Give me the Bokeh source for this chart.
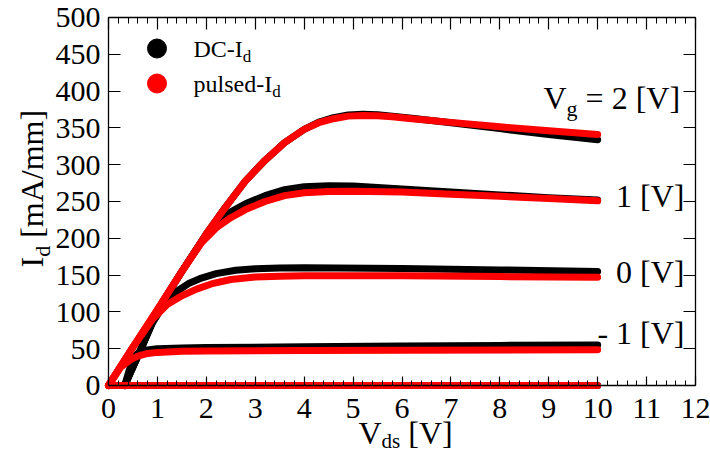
import math
from bokeh.plotting import figure
from bokeh.models import Label, LinearAxis, Range1d, FixedTicker
from bokeh.embed import file_html
from bokeh.resources import INLINE

# ---------------- data ----------------
x_ticks = list(range(0, 13))
y_ticks = list(range(0, 501, 50))
x_tick_labels = [str(t) for t in x_ticks]
y_tick_labels = [str(t) for t in y_ticks]

# DC drain current (black) for each gate voltage
dc_vds_p2 = [0.33, 0.6, 1.0, 1.5, 2.0, 2.4, 2.8, 3.2, 3.6, 4.0, 4.3, 4.6, 4.9, 5.2, 5.5, 5.8, 6.2, 6.6, 7.0, 8.0, 9.0, 10.0]
dc_id_p2 = [0, 40, 102, 155, 206, 243, 278, 306, 330, 348, 358, 364, 367.5, 368.5, 368, 366, 363, 360, 357, 349, 341, 334]
dc_vds_p1 = [0.33, 0.6, 1.0, 1.5, 1.95, 2.25, 2.5, 2.8, 3.2, 3.6, 4.0, 4.5, 5.0, 6.0, 7.0, 8.0, 9.0, 10.0]
dc_id_p1 = [0, 40, 102, 155, 200, 222, 236, 247, 258, 266, 270, 271.5, 271, 267, 263, 259, 255, 252]
dc_vds_0 = [0.33, 0.6, 0.9, 1.15, 1.4, 1.65, 1.9, 2.2, 2.6, 3.0, 3.5, 4.0, 6.0, 8.0, 10.0]
dc_id_0 = [0, 40, 85, 112, 128, 139, 146, 152, 156.5, 158.5, 159.5, 160, 159, 157, 155]
dc_vds_m1 = [0.33, 0.42, 0.5, 0.6, 0.75, 1.0, 1.5, 2.0, 4.0, 6.0, 8.0, 10.0]
dc_id_m1 = [0, 20, 36, 44, 48, 50, 51, 51.5, 52.5, 53.5, 54.5, 55]
dc_vds_m2 = [0.0, 10.0]
dc_id_m2 = [0, 0]

# pulsed drain current (red)
pl_vds_p2 = [0, 0.5, 1.0, 1.5, 2.0, 2.4, 2.8, 3.2, 3.6, 4.0, 4.3, 4.6, 4.9, 5.2, 5.5, 5.8, 6.2, 6.6, 7.0, 8.0, 9.0, 10.0]
pl_id_p2 = [0, 52, 103, 155, 206, 243, 278, 306, 330, 348, 357, 362.5, 366, 367, 366.5, 365, 362.5, 360, 357.5, 351.5, 346, 341]
pl_vds_p1 = [0, 0.5, 1.0, 1.5, 1.9, 2.2, 2.5, 2.8, 3.2, 3.6, 4.0, 4.5, 5.0, 6.0, 7.0, 8.0, 9.0, 10.0]
pl_id_p1 = [0, 52, 103, 155, 194, 214, 228, 239, 250, 258, 262, 263.5, 264, 263, 260, 257, 254, 251]
pl_vds_0 = [0, 0.5, 0.9, 1.2, 1.5, 1.8, 2.1, 2.5, 3.0, 3.5, 4.0, 6.0, 8.0, 10.0]
pl_id_0 = [0, 52, 90, 110, 122, 131, 138, 144, 147.5, 148.5, 149, 149, 148, 147]
pl_vds_m1 = [0, 0.25, 0.45, 0.6, 0.8, 1.0, 1.5, 2.0, 4.0, 10.0]
pl_id_m1 = [0, 25, 35, 40, 43.5, 45, 46.5, 47, 47.5, 48.5]
pl_vds_m2 = [0.0, 10.0]
pl_id_m2 = [0, 0]

dc_series = [(dc_vds_p2, dc_id_p2), (dc_vds_p1, dc_id_p1), (dc_vds_0, dc_id_0),
             (dc_vds_m1, dc_id_m1), (dc_vds_m2, dc_id_m2)]
pl_series = [(pl_vds_p2, pl_id_p2), (pl_vds_p1, pl_id_p1), (pl_vds_0, pl_id_0),
             (pl_vds_m1, pl_id_m1), (pl_vds_m2, pl_id_m2)]

legend_labels = [("DC-I", "d"), ("pulsed-I", "d")]
series_colors = ["#000000", "#ff0000"]

# ---------------- layout ----------------
W, H = 710, 453
# pixel box of the data area inside the canvas
PL, PR, PT, PB = 108, 695, 17, 385
X0, X1, Y0, Y1 = 0, 12, 0, 500
FONT = "Liberation Serif"
CORR = 0.34  # baseline correction (em) of bokeh's alphabetic anchor

sx = (X1 - X0) / (PR - PL)
sy = (Y1 - Y0) / (PB - PT)


def xd(px):
    return X0 + (px - PL) * sx


def yd(py):
    return Y0 + (PB - py) * sy


# Times metrics (1/1000 em)
TW = {"V": 722, "D": 722, "C": 667, "-": 333, "I": 333, "p": 500, "u": 500, "l": 278,
      "s": 389, "e": 444, "d": 500, " ": 250, "=": 564, "[": 333, "]": 333, "m": 778,
      "A": 722, "/": 278, "g": 500}


def tw(s, size):
    return sum(TW.get(c, 500) for c in s) / 1000.0 * size


# the frame spans the whole canvas; axes are pinned to the data box
p = figure(width=W, height=H, x_range=Range1d(xd(0), xd(W)), y_range=Range1d(yd(H), yd(0)),
           output_backend="svg", toolbar_location=None,
           min_border=0, min_border_left=0, min_border_right=0, min_border_top=0, min_border_bottom=0,
           x_axis_type=None, y_axis_type=None)
p.xgrid.visible = False
p.ygrid.visible = False
p.outline_line_color = None
p.background_fill_color = "white"
p.border_fill_color = "white"

x_minor = [i / 5 for i in range(0, 61)]


def make_axis(kind, loc, ticks, minor, tick_in, minor_in):
    ax = LinearAxis(ticker=FixedTicker(ticks=ticks, minor_ticks=minor), fixed_location=loc,
                    bounds=(X0, X1) if kind == "x" else (Y0, Y1))
    ax.axis_line_color = "black"
    ax.axis_line_width = 1.3
    ax.major_tick_line_color = "black"
    ax.minor_tick_line_color = "black"
    ax.major_tick_line_width = 1.2
    ax.minor_tick_line_width = 1.0
    ax.major_tick_in = tick_in
    ax.major_tick_out = 0
    ax.minor_tick_in = minor_in
    ax.minor_tick_out = 0
    ax.major_label_text_color = None   # tick labels are drawn as serif labels below
    ax.major_label_text_font_size = "0px"
    return ax


p.add_layout(make_axis("x", Y0, x_ticks, x_minor, 9, 5), "below")
p.add_layout(make_axis("y", X0, y_ticks, [], 12, 0), "left")
p.add_layout(make_axis("x", Y1, x_ticks, x_minor, 12, 6), "above")
p.add_layout(make_axis("y", X1, y_ticks, [], 12, 0), "right")

# ---------------- curves ----------------
for xs, ys in dc_series:
    p.line(xs, ys, line_color=series_colors[0], line_width=7, line_cap="round", line_join="round")
for xs, ys in pl_series:
    p.line(xs, ys, line_color=series_colors[1], line_width=7, line_cap="round", line_join="round")


# ---------------- texts ----------------
def lab(x, y, text, size, xo=0.0, yo=0.0, align="left", angle=0.0):
    # xo, yo: screen offsets (right, down) of the alphabetic baseline anchor
    if angle == 0:
        xo2, yo2 = xo, -(yo - CORR * size)
    else:
        xo2, yo2 = xo - CORR * size, -yo
    p.add_layout(Label(x=x, y=y, x_offset=xo2, y_offset=yo2, text=text, angle=angle,
                       text_font=FONT, text_font_size=f"{size}px", text_color="black",
                       text_align=align, text_baseline="alphabetic"))


def add_runs(x_px, y_px, parts, angle=0.0, align="left"):
    """parts: (text, size, baseline shift down in px); leading blanks become advances."""
    total = sum(tw(t, s) for t, s, _ in parts)
    cum = -total if align == "right" else 0.0
    for t, s, dy in parts:
        body = t.lstrip(" ")
        cum += tw(t[:len(t) - len(body)], s)
        if angle == 0:
            lab(xd(x_px), yd(y_px), body, s, xo=cum, yo=dy)
        else:
            lab(xd(x_px), yd(y_px), body, s, xo=dy, yo=-cum, angle=angle)
        cum += tw(body, s)


# tick labels
for t, s in zip(x_ticks, x_tick_labels):
    lab(t, Y0, s, 30, yo=33, align="center")
for t, s in zip(y_ticks, y_tick_labels):
    lab(X0, t, s, 30, xo=-8, yo=10.5, align="right")

# legend
leg_rows = [48, 83]
for (main, sub), color, py in zip(legend_labels, series_colors, leg_rows):
    p.scatter([xd(156.5)], [yd(py)], size=19, color=color, marker="circle")
    add_runs(193, py + 9, [(main, 24, 0), (sub, 17, 5)])

# gate-voltage labels
add_runs(543, 108, [("V", 32, 0), ("g", 22, 7), (" = 2 [V]", 32, 0)])
add_runs(684, 206, [("1 [V]", 32, 0)], align="right")
add_runs(684, 282, [("0 [V]", 32, 0)], align="right")
add_runs(684, 343, [("- 1 [V]", 32, 0)], align="right")

# axis titles
add_runs(358, 443, [("V", 32, 0), ("ds", 21, 5), (" [V]", 32, 0)])
add_runs(42, 267, [("I", 32, 0), ("d", 22, 7), (" [mA/mm]", 32, 0)], angle=math.pi / 2)

open("out.html", "w").write(file_html(p, INLINE))
